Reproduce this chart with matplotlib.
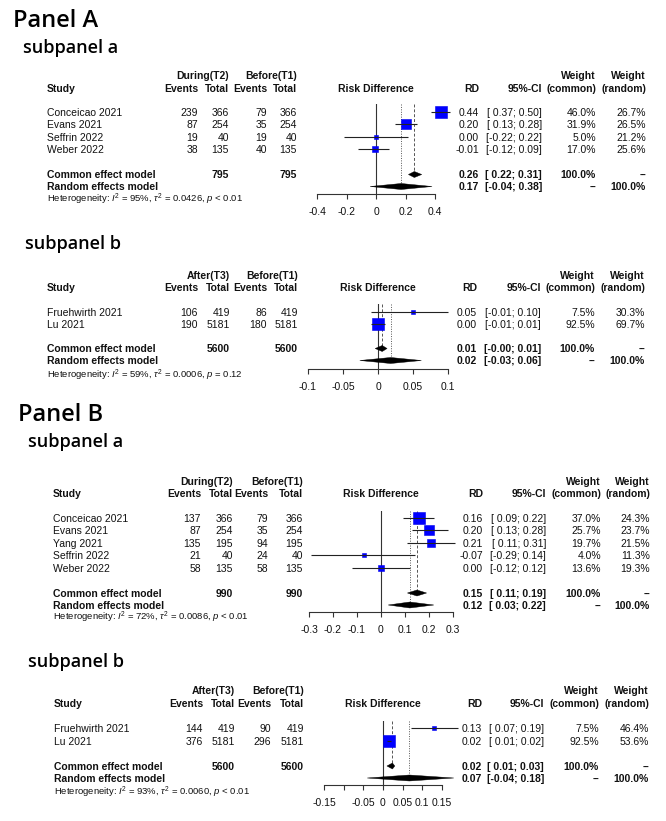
import numpy as np
import matplotlib
matplotlib.use('Agg')
import matplotlib.pyplot as plt
from matplotlib.patches import Polygon

plt.rcParams['font.family'] = ['Liberation Sans', 'DejaVu Sans']
plt.rcParams['mathtext.fontset'] = 'custom'
plt.rcParams['mathtext.rm'] = 'Liberation Sans'
plt.rcParams['mathtext.it'] = 'Liberation Sans:italic'
plt.rcParams['mathtext.bf'] = 'Liberation Sans:bold'

W, H = 666, 821
FS = 7.5
FS_HET = 6.8
TITLE_FONT = ['Open Sans', 'DejaVu Sans']

## Data

# Panel A, subpanel a
study_Aa = ['Conceicao 2021', 'Evans 2021', 'Seffrin 2022', 'Weber 2022']
ev1_Aa = [239, 87, 19, 38]
n1_Aa = [366, 254, 40, 135]
ev2_Aa = [79, 35, 19, 40]
n2_Aa = [366, 254, 40, 135]
rd_Aa = [0.44, 0.20, 0.00, -0.01]
lo_Aa = [0.37, 0.13, -0.22, -0.12]
hi_Aa = [0.50, 0.28, 0.22, 0.09]
wc_Aa = [46.0, 31.9, 5.0, 17.0]
wr_Aa = [26.7, 26.5, 21.2, 25.6]
common_Aa = (0.26, 0.22, 0.31)
random_Aa = (0.17, -0.04, 0.38)
het_Aa = ('95%', '0.0426', '< 0.01')
ticks_Aa = [-0.4, -0.2, 0, 0.2, 0.4]
ticklab_Aa = ['-0.4', '-0.2', '0', '0.2', '0.4']

# Panel A, subpanel b
study_Ab = ['Fruehwirth 2021', 'Lu 2021']
ev1_Ab = [106, 190]
n1_Ab = [419, 5181]
ev2_Ab = [86, 180]
n2_Ab = [419, 5181]
rd_Ab = [0.05, 0.00]
lo_Ab = [-0.01, -0.01]
hi_Ab = [0.10, 0.01]
wc_Ab = [7.5, 92.5]
wr_Ab = [30.3, 69.7]
common_Ab = (0.006, -0.004, 0.013)
random_Ab = (0.018, -0.026, 0.062)
het_Ab = ('59%', '0.0006', '= 0.12')
ticks_Ab = [-0.1, -0.05, 0, 0.05, 0.1]
ticklab_Ab = ['-0.1', '-0.05', '0', '0.05', '0.1']

# Panel B, subpanel a
study_Ba = ['Conceicao 2021', 'Evans 2021', 'Yang 2021', 'Seffrin 2022', 'Weber 2022']
ev1_Ba = [137, 87, 135, 21, 58]
n1_Ba = [366, 254, 195, 40, 135]
ev2_Ba = [79, 35, 94, 24, 58]
n2_Ba = [366, 254, 195, 40, 135]
rd_Ba = [0.16, 0.20, 0.21, -0.07, 0.00]
lo_Ba = [0.09, 0.13, 0.11, -0.29, -0.12]
hi_Ba = [0.22, 0.28, 0.31, 0.14, 0.12]
wc_Ba = [37.0, 25.7, 19.7, 4.0, 13.6]
wr_Ba = [24.3, 23.7, 21.5, 11.3, 19.3]
common_Ba = (0.15, 0.11, 0.19)
random_Ba = (0.12, 0.03, 0.22)
het_Ba = ('72%', '0.0086', '< 0.01')
ticks_Ba = [-0.3, -0.2, -0.1, 0, 0.1, 0.2, 0.3]
ticklab_Ba = ['-0.3', '-0.2', '-0.1', '0', '0.1', '0.2', '0.3']

# Panel B, subpanel b
study_Bb = ['Fruehwirth 2021', 'Lu 2021']
ev1_Bb = [144, 376]
n1_Bb = [419, 5181]
ev2_Bb = [90, 296]
n2_Bb = [419, 5181]
rd_Bb = [0.13, 0.016]
lo_Bb = [0.07, 0.01]
hi_Bb = [0.19, 0.02]
wc_Bb = [7.5, 92.5]
wr_Bb = [46.4, 53.6]
common_Bb = (0.024, 0.01, 0.03)
random_Bb = (0.067, -0.04, 0.18)
het_Bb = ('93%', '0.0060', '< 0.01')
ticks_Bb = [-0.15, -0.1, -0.05, 0, 0.05, 0.1, 0.15]
ticklab_Bb = ['-0.15', '', '-0.05', '0', '0.05', '0.1', '0.15']

subpanels = [
    dict(study=study_Aa, ev1=ev1_Aa, n1=n1_Aa, ev2=ev2_Aa, n2=n2_Aa, rd=rd_Aa, lo=lo_Aa, hi=hi_Aa,
         wc=wc_Aa, wr=wr_Aa, common=common_Aa, random=random_Aa, het=het_Aa,
         ticks=ticks_Aa, ticklab=ticklab_Aa, g1='During(T2)', g2='Before(T1)'),
    dict(study=study_Ab, ev1=ev1_Ab, n1=n1_Ab, ev2=ev2_Ab, n2=n2_Ab, rd=rd_Ab, lo=lo_Ab, hi=hi_Ab,
         wc=wc_Ab, wr=wr_Ab, common=common_Ab, random=random_Ab, het=het_Ab,
         ticks=ticks_Ab, ticklab=ticklab_Ab, g1='After(T3)', g2='Before(T1)'),
    dict(study=study_Ba, ev1=ev1_Ba, n1=n1_Ba, ev2=ev2_Ba, n2=n2_Ba, rd=rd_Ba, lo=lo_Ba, hi=hi_Ba,
         wc=wc_Ba, wr=wr_Ba, common=common_Ba, random=random_Ba, het=het_Ba,
         ticks=ticks_Ba, ticklab=ticklab_Ba, g1='During(T2)', g2='Before(T1)'),
    dict(study=study_Bb, ev1=ev1_Bb, n1=n1_Bb, ev2=ev2_Bb, n2=n2_Bb, rd=rd_Bb, lo=lo_Bb, hi=hi_Bb,
         wc=wc_Bb, wr=wr_Bb, common=common_Bb, random=random_Bb, het=het_Bb,
         ticks=ticks_Bb, ticklab=ticklab_Bb, g1='After(T3)', g2='Before(T1)'),
]

## Layout (pixel positions of each block)

layouts = [
    dict(sx=47, cols=[198, 229, 267, 297], h1=75, h2=88, y0=112, dy=12.4, yc=174.5, yr=186.5, yh=199,
         px0=317, px1=435, top=104, axis=194, rdx=479, cix=542, wcx=596, wrx=646),
    dict(sx=47, cols=[198, 230, 267, 298], h1=275, h2=287, y0=312, dy=12.3, yc=348.5, yr=360.5, yh=375,
         px0=308, px1=448, top=304, axis=369, rdx=477, cix=541, wcx=595, wrx=645),
    dict(sx=53, cols=[201, 233, 268, 303], h1=481, h2=493, y0=518, dy=12.5, yc=593, yr=605, yh=617,
         px0=309, px1=453, top=511, axis=612, rdx=483, cix=546, wcx=601, wrx=650),
    dict(sx=54, cols=[203, 235, 271, 304], h1=690, h2=703, y0=728.5, dy=12.5, yc=766, yr=778, yh=792,
         px0=324, px1=442, top=721, axis=785, rdx=482, cix=544, wcx=599, wrx=649),
]

titles = [('Panel A', 13, 27, 17), ('subpanel a', 23, 53, 13), ('subpanel b', 25, 249, 13),
          ('Panel B', 18, 421, 17), ('subpanel a', 28, 447, 13), ('subpanel b', 28, 667, 13)]

## Plotting

fig = plt.figure(figsize=(W / 100, H / 100), dpi=100)
bg = fig.add_axes([0, 0, 1, 1])
bg.set_xlim(0, W)
bg.set_ylim(H, 0)
bg.axis('off')


def txt(x, y, s, ha='left', bold=False, size=FS):
    bg.text(x, y + 0.8, s, ha=ha, va='center', fontsize=size,
            fontweight='bold' if bold else 'normal', color='#111111')


def ci_str(lo, hi):
    return f"[{lo:5.2f}; {hi:.2f}]"


for s, x, y, size in titles:
    bg.text(x, y, s, ha='left', va='baseline', fontsize=size, family=TITLE_FONT,
            fontweight='semibold', color='black')

for d, L in zip(subpanels, layouts):
    n = len(d['study'])
    rows = [L['y0'] + i * L['dy'] for i in range(n)]

    # header
    txt(L['sx'], L['h2'], 'Study', bold=True)
    txt(L['cols'][1], L['h1'], d['g1'], ha='right', bold=True)
    txt(L['cols'][3], L['h1'], d['g2'], ha='right', bold=True)
    for cx, lab in zip(L['cols'], ['Events', 'Total', 'Events', 'Total']):
        txt(cx, L['h2'], lab, ha='right', bold=True)
    txt((L['px0'] + L['px1']) / 2, L['h2'], 'Risk Difference', ha='center', bold=True)
    txt(L['rdx'], L['h2'], 'RD', ha='right', bold=True)
    txt(L['cix'], L['h2'], '95%-CI', ha='right', bold=True)
    txt(L['wcx'], L['h1'], 'Weight', ha='right', bold=True)
    txt(L['wcx'], L['h2'], '(common)', ha='right', bold=True)
    txt(L['wrx'], L['h1'], 'Weight', ha='right', bold=True)
    txt(L['wrx'], L['h2'], '(random)', ha='right', bold=True)

    # study rows
    for i in range(n):
        y = rows[i]
        txt(L['sx'], y, d['study'][i])
        for cx, v in zip(L['cols'], [d['ev1'][i], d['n1'][i], d['ev2'][i], d['n2'][i]]):
            txt(cx, y, str(v), ha='right')
        txt(L['rdx'], y, f"{d['rd'][i]:.2f}", ha='right')
        txt(L['cix'], y, ci_str(d['lo'][i], d['hi'][i]), ha='right')
        txt(L['wcx'], y, f"{d['wc'][i]:.1f}%", ha='right')
        txt(L['wrx'], y, f"{d['wr'][i]:.1f}%", ha='right')

    # summary rows
    c, r = d['common'], d['random']
    txt(L['sx'], L['yc'], 'Common effect model', bold=True)
    txt(L['cols'][1], L['yc'], str(sum(d['n1'])), ha='right', bold=True)
    txt(L['cols'][3], L['yc'], str(sum(d['n2'])), ha='right', bold=True)
    txt(L['rdx'], L['yc'], f"{c[0]:.2f}", ha='right', bold=True)
    txt(L['cix'], L['yc'], ci_str(c[1], c[2]), ha='right', bold=True)
    txt(L['wcx'], L['yc'], '100.0%', ha='right', bold=True)
    txt(L['wrx'], L['yc'], '--', ha='right', bold=True)
    txt(L['sx'], L['yr'], 'Random effects model', bold=True)
    txt(L['rdx'], L['yr'], f"{r[0]:.2f}", ha='right', bold=True)
    txt(L['cix'], L['yr'], ci_str(r[1], r[2]), ha='right', bold=True)
    txt(L['wcx'], L['yr'], '--', ha='right', bold=True)
    txt(L['wrx'], L['yr'], '100.0%', ha='right', bold=True)
    i2, tau2, p = d['het']
    txt(L['sx'], L['yh'], rf"Heterogeneity: $I^2$ = {i2}, $\tau^2$ = {tau2}, $p$ {p}", size=FS_HET)

    # forest
    ax = fig.add_axes([L['px0'] / W, 1 - L['axis'] / H,
                       (L['px1'] - L['px0']) / W, (L['axis'] - L['top']) / H])
    ax.patch.set_alpha(0)
    ax.set_xlim(d['ticks'][0], d['ticks'][-1])
    ax.set_ylim(L['axis'], L['top'])
    for s in ['top', 'right', 'left']:
        ax.spines[s].set_visible(False)
    ax.spines['bottom'].set_linewidth(0.8)
    ax.spines['bottom'].set_color('#333333')
    ax.set_yticks([])
    ax.set_xticks(d['ticks'])
    ax.set_xticklabels(d['ticklab'])
    ax.tick_params(axis='x', direction='out', length=3.8, width=0.8, color='#333333',
                   pad=5.5, labelsize=FS, labelcolor='#111111')

    ax.axvline(0, color='#333333', lw=0.8, zorder=1)
    ax.vlines(c[0], L['top'], L['yc'], colors='#555555', lw=0.7, linestyles=(0, (3, 2)), zorder=1)
    ax.vlines(r[0], L['top'], L['yr'], colors='#555555', lw=0.7, linestyles=(0, (1, 1.5)), zorder=1)

    wmax = max(d['wc'])
    for i in range(n):
        side = 11.5 * np.sqrt(d['wc'][i] / wmax)
        ax.plot(d['rd'][i], rows[i], marker='s', ms=side * 0.72, color='#0000ff',
                mec='#0000ee', mew=0.4, zorder=3, clip_on=False)
        ax.plot([d['lo'][i], d['hi'][i]], [rows[i], rows[i]], color='#222222', lw=0.8,
                zorder=4, clip_on=False, solid_capstyle='butt')

    for (est, lo, hi), y in [(c, L['yc']), (r, L['yr'])]:
        ax.add_patch(Polygon([[lo, y], [est, y - 3], [hi, y], [est, y + 3]], closed=True,
                             facecolor='black', edgecolor='black', lw=0.3, zorder=3, clip_on=False))

fig.savefig('out.png', dpi=100)
